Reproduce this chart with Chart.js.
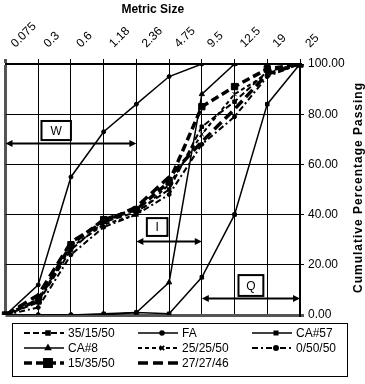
<!DOCTYPE html>
<html>
<head>
<meta charset="utf-8">
<script src="https://cdn.jsdelivr.net/npm/chart.js@4/dist/chart.umd.min.js"></script>
<style>
  html, body { margin: 0; padding: 0; background: #fff; }
  #wrap { width: 365px; height: 384px; }
</style>
</head>
<body>
<div id="wrap"><canvas id="gradChart" width="365" height="384"></canvas></div>
<script>
// sieve sizes (mm) and cumulative % passing for each blend
const sizes = ['0.075', '0.3', '0.6', '1.18', '2.36', '4.75', '9.5', '12.5', '19', '25'];
const yTicks = [0, 20, 40, 60, 80, 100];

const mix351550 = [0, 5, 26, 37, 41, 50, 75, 85, 97, 100];
const fa = [0, 12, 55, 73, 84, 95, 100, 100, 100, 100];
const ca57 = [0, 0, 0, 0.5, 1, 0.5, 15, 40, 84, 100];
const ca8 = [0, 0, 0, 0, 1, 13, 88, 100, 100, 100];
const mix252550 = [0, 6, 27, 36, 40, 52, 72, 88, 96, 100];
const mix05050 = [0, 3, 24, 35, 40, 48, 68, 79, 95, 100];
const mix153550 = [0, 6, 28, 38, 42, 53, 83, 91, 98, 100];
const mix272746 = [0, 8, 29, 37, 43, 55, 69, 82, 96, 100];

// zone labels W / I / Q : arrow spans (category index) and box spots
const zones = [
    { text: 'W', from: 0, to: 4, at: 68.5, box: [1.1, 2.0, 77.3, 69.7] },
    { text: 'I', from: 4, to: 6, at: 29.5, box: [4.32, 4.95, 38.6, 31.5] },
    { text: 'Q', from: 6, to: 9, at: 6.8, box: [7.12, 7.88, 15.9, 7.6] }
];

const FONT = '"Liberation Sans", Arial, sans-serif';
Chart.defaults.font.family = FONT;
Chart.defaults.font.size = 12;
Chart.defaults.color = '#000';

function line(label, data, dash, width, style, radius) {
    return {
        label: label,
        data: data,
        borderColor: '#000',
        backgroundColor: '#000',
        borderWidth: width,
        borderDash: dash,
        pointStyle: style,
        pointRadius: radius,
        pointBorderWidth: 1,
        pointHoverRadius: radius,
        tension: 0,
        fill: false
    };
}

// slanted size labels above the plot, starting just right of each grid line
const sizeLabelPlugin = {
    id: 'sizeLabels',
    afterDraw(chart) {
        const ctx = chart.ctx, xs = chart.scales.x, top = chart.chartArea.top;
        ctx.save();
        ctx.font = '12px ' + FONT;
        ctx.fillStyle = '#000';
        ctx.textAlign = 'left';
        ctx.textBaseline = 'alphabetic';
        sizes.forEach((s, i) => {
            ctx.save();
            ctx.translate(xs.getPixelForTick(i) + 10, top - 16);
            ctx.rotate(-Math.PI / 4);
            ctx.fillText(s, 0, 0);
            ctx.restore();
        });
        ctx.restore();
    }
};

const zonePlugin = {
    id: 'zones',
    afterDatasetsDraw(chart) {
        const ctx = chart.ctx, xs = chart.scales.x, ys = chart.scales.y;
        ctx.save();
        zones.forEach(z => {
            const x1 = xs.getPixelForValue(z.from), x2 = xs.getPixelForValue(z.to);
            const y = Math.round(ys.getPixelForValue(z.at)) + 0.5;
            ctx.strokeStyle = '#000';
            ctx.fillStyle = '#000';
            ctx.lineWidth = 2;
            ctx.beginPath(); ctx.moveTo(x1 + 4, y); ctx.lineTo(x2 - 4, y); ctx.stroke();
            [[x1, 1], [x2, -1]].forEach(([px, d]) => {
                ctx.beginPath();
                ctx.moveTo(px, y);
                ctx.lineTo(px + d * 7, y - 3.5);
                ctx.lineTo(px + d * 7, y + 3.5);
                ctx.closePath();
                ctx.fill();
            });
            const bx1 = xs.getPixelForValue(z.box[0]), bx2 = xs.getPixelForValue(z.box[1]);
            const by1 = ys.getPixelForValue(z.box[2]), by2 = ys.getPixelForValue(z.box[3]);
            ctx.fillStyle = '#fff';
            ctx.fillRect(bx1, by1, bx2 - bx1, by2 - by1);
            ctx.strokeRect(bx1, by1, bx2 - bx1, by2 - by1);
            ctx.fillStyle = '#000';
            ctx.font = '12px ' + FONT;
            ctx.textAlign = 'center';
            ctx.textBaseline = 'middle';
            ctx.fillText(z.text, (bx1 + bx2) / 2, (by1 + by2) / 2 + 1);
        });
        ctx.restore();
    }
};

const legendPlugin = {
    id: 'boxLegend',
    afterDraw(chart) {
        const ctx = chart.ctx;
        ctx.save();
        ctx.strokeStyle = '#000';
        ctx.lineWidth = 1;
        ctx.strokeRect(12.5, 323.5, 335, 53);
        const cols = [24, 138, 252];
        const rows = [333, 348, 363];
        chart.data.datasets.forEach((ds, i) => {
            const x0 = cols[i % 3], y = rows[Math.floor(i / 3)];
            ctx.strokeStyle = '#000';
            ctx.lineWidth = ds.borderWidth;
            ctx.setLineDash(ds.borderDash || []);
            ctx.beginPath(); ctx.moveTo(x0, y); ctx.lineTo(x0 + 40, y); ctx.stroke();
            ctx.setLineDash([]);
            ctx.fillStyle = '#000';
            if (ds.pointRadius > 0) {
                Chart.helpers.drawPoint(ctx, { pointStyle: ds.pointStyle, radius: ds.pointRadius, borderWidth: 1, rotation: 0 }, x0 + 24, y);
            }
            ctx.font = '12px ' + FONT;
            ctx.textAlign = 'left';
            ctx.textBaseline = 'middle';
            ctx.fillText(ds.label, x0 + 44, y + 1);
        });
        ctx.restore();
    }
};

const yTitlePlugin = {
    id: 'yTitle',
    afterDraw(chart) {
        const ctx = chart.ctx, a = chart.chartArea;
        ctx.save();
        ctx.translate(359, (a.top + a.bottom) / 2 - 2);
        ctx.rotate(-Math.PI / 2);
        ctx.font = 'bold 12px ' + FONT;
        ctx.letterSpacing = '1px';
        ctx.fillStyle = '#000';
        ctx.textAlign = 'center';
        ctx.textBaseline = 'middle';
        ctx.fillText('Cumulative Percentage Passing', 0, 0);
        ctx.restore();
    }
};

new Chart(document.getElementById('gradChart'), {
    type: 'line',
    data: {
        labels: sizes,
        datasets: [
            line('35/15/50', mix351550, [6, 3], 2, 'rect', 2.5),
            line('FA', fa, [], 1.5, 'circle', 2),
            line('CA#57', ca57, [], 1.5, 'rect', 2.5),
            line('CA#8', ca8, [], 1.5, 'triangle', 3),
            line('25/25/50', mix252550, [4, 3], 2, 'crossRot', 3),
            line('0/50/50', mix05050, [6, 3, 2, 3], 2, 'circle', 2),
            line('15/35/50', mix153550, [8, 4], 3.5, 'rect', 4.5),
            line('27/27/46', mix272746, [10, 5], 3.5, 'line', 0)
        ]
    },
    options: {
        responsive: false,
        animation: false,
        devicePixelRatio: 1,
        layout: { padding: { left: 5, right: 0, top: 0, bottom: 69 } },
        plugins: {
            legend: { display: false },
            tooltip: { enabled: false }
        },
        scales: {
            x: {
                position: 'top',
                offset: false,
                grid: {
                    color: c => c.index === 0 ? '#555' : '#000',
                    lineWidth: c => c.index === 0 ? 3 : 1,
                    tickLength: 5
                },
                border: { color: '#000', width: 2 },
                ticks: { display: false, autoSkip: false },
                title: { display: true, text: 'Metric Size', font: { size: 12, weight: 'bold' }, padding: { top: 2, bottom: 0 } },
                afterFit: s => { s.height = 64; }
            },
            y: {
                position: 'right',
                min: 0,
                max: 100,
                afterBuildTicks: s => { s.ticks = yTicks.map(v => ({ value: v })); },
                grid: {
                    color: c => c.tick && c.tick.value === 0 ? '#555' : '#000',
                    lineWidth: c => c.tick && c.tick.value === 0 ? 3 : 1,
                    tickLength: 4
                },
                border: { color: '#000', width: 2 },
                ticks: { padding: 4, font: { size: 12 }, callback: v => v.toFixed(2) },
                afterFit: s => { s.width = 65; }
            }
        }
    },
    plugins: [sizeLabelPlugin, zonePlugin, legendPlugin, yTitlePlugin]
});
</script>
</body>
</html>
